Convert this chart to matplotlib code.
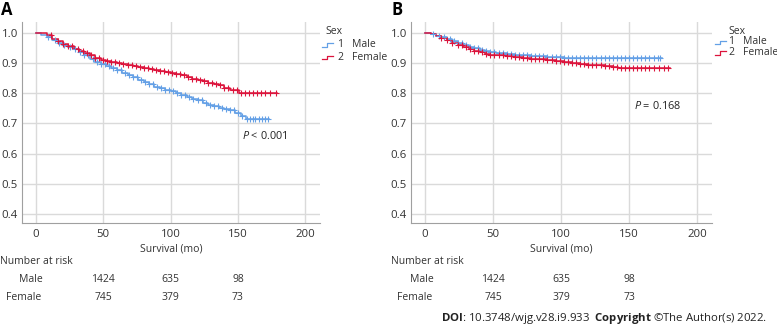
"""Kaplan-Meier survival curves by sex, panels A and B."""
import numpy as np
import matplotlib.pyplot as plt
from matplotlib.transforms import blended_transform_factory

# panel A step curves (time in months, survival)
a_male_t = [0, 4, 8, 12, 16, 20, 24, 28, 32, 36, 40, 44, 48, 52, 56, 60, 64, 68, 72, 76,
            80, 84, 88, 92, 96, 100, 104, 108, 112, 116, 120, 124, 128, 132, 136, 140,
            144, 148, 152, 156, 173]
a_male_s = [1.0, .993, .985, .976, .968, .961, .954, .946, .936, .926, .915, .905, .897,
            .889, .882, .876, .868, .860, .853, .845, .837, .829, .822, .816, .811, .807,
            .800, .793, .786, .780, .776, .769, .762, .758, .752, .747, .743, .735, .725,
            .716, .716]
a_female_t = [0, 4, 8, 12, 16, 20, 24, 28, 32, 36, 40, 44, 48, 52, 56, 60, 64, 68, 72, 76,
              80, 84, 88, 92, 96, 100, 104, 108, 112, 116, 120, 124, 128, 132, 136, 140,
              144, 148, 151, 179]
a_female_s = [1.0, .999, .992, .981, .972, .963, .955, .948, .940, .932, .925, .918, .910,
              .906, .903, .901, .898, .893, .890, .886, .884, .881, .877, .874, .871, .867,
              .863, .859, .853, .848, .845, .841, .835, .831, .826, .818, .812, .810, .800,
              .800]

# panel B step curves
b_male_t = [0, 4, 8, 12, 16, 20, 24, 28, 32, 36, 40, 44, 48, 52, 56, 60, 66, 72, 78, 84,
            90, 96, 102, 174]
b_male_s = [1.0, .996, .991, .985, .979, .973, .966, .960, .954, .949, .944, .940, .937,
            .934, .932, .930, .928, .926, .924, .922, .920, .919, .918, .918]
b_female_t = [0, 4, 8, 12, 16, 20, 24, 28, 32, 36, 40, 44, 48, 54, 60, 66, 72, 78, 84, 90,
              96, 102, 108, 114, 120, 126, 132, 138, 142, 180]
b_female_s = [1.0, .997, .990, .982, .975, .967, .960, .953, .946, .940, .935, .931, .928,
              .925, .922, .920, .917, .914, .912, .909, .907, .904, .900, .896, .894, .892,
              .890, .887, .883, .883]

# censored observation times
a_male_cens = [9, 14, 17, 21, 25, 29, 33, 36, 39, 42, 45, 48, 51, 54, 57, 60, 63, 66, 69,
               72, 75, 78, 81, 84, 87, 90, 93, 96, 99, 102, 105, 108, 111, 114, 117, 120,
               123, 126, 129, 132, 135, 138, 141, 144, 147, 150, 153, 157, 159, 161, 163,
               166, 168, 170, 172]
a_female_cens = [11, 16, 20, 24, 27, 31, 35, 38, 41, 44, 47, 50, 53, 56, 59, 62, 65, 68,
                 71, 74, 77, 80, 83, 86, 89, 92, 95, 98, 101, 104, 107, 110, 113, 116, 119,
                 122, 125, 128, 131, 134, 137, 140, 143, 146, 149, 152, 155, 158, 161, 164,
                 167, 170, 174, 178]
b_male_cens = [6, 10, 14, 18, 21, 24, 27, 30, 33, 36, 39, 42, 45, 48, 51, 54, 57, 60, 63,
               66, 69, 72, 75, 78, 81, 84, 87, 90, 93, 96, 99, 102, 105, 108, 111, 114,
               117, 120, 123, 126, 129, 132, 135, 138, 141, 144, 147, 150, 153, 156, 159,
               162, 165, 168, 171, 173]
b_female_cens = [12, 16, 20, 24, 27, 30, 33, 36, 39, 42, 45, 48, 51, 54, 57, 60, 63, 66,
                 69, 72, 75, 78, 81, 84, 87, 90, 93, 96, 99, 102, 105, 108, 111, 114, 117,
                 120, 123, 126, 129, 132, 135, 138, 141, 144, 147, 150, 153, 156, 159, 162,
                 165, 168, 172, 176, 179]

risk_times = [50, 100, 150]
a_risk_male = [1424, 635, 98]
a_risk_female = [745, 379, 73]
b_risk_male = [1424, 635, 98]
b_risk_female = [745, 379, 73]

BLUE = "#64a0e6"
RED = "#dc143c"
GRID = "#dadada"
TXT = "#333333"

plt.rcParams["font.family"] = ["Open Sans", "DejaVu Sans"]
plt.rcParams["mathtext.fontset"] = "custom"
plt.rcParams["mathtext.it"] = "Open Sans:italic"
plt.rcParams["mathtext.rm"] = "Open Sans"
plt.rcParams["mathtext.bf"] = "Open Sans:bold"

W, H = 777, 329
fig = plt.figure(figsize=(W / 100, H / 100), dpi=100)
FS = 7.5


def fx(px):
    return px / W


def fy(py):
    return 1 - py / H


def step_value(t, s, x):
    i = np.searchsorted(t, x, side="right") - 1
    return np.asarray(s)[i]


def km_panel(rect, curves, pval, pos, risk_m, risk_f, letter, x0, leg):
    ax = fig.add_axes(rect)
    for t, s, cens, c in curves:
        ax.step(t, s, where="post", color=c, lw=1.1, zorder=3)
        ax.plot(cens, step_value(t, s, cens), ls="none", marker="+", ms=4,
                mew=0.8, color=c, zorder=4)
    ax.set_xlim(-10.4, 211)
    ax.set_ylim(0.37, 1.036)
    ax.set_xticks([0, 50, 100, 150, 200])
    ax.set_yticks([0.4, 0.5, 0.6, 0.7, 0.8, 0.9, 1.0])
    ax.set_yticklabels(["0.4", "0.5", "0.6", "0.7", "0.8", "0.9", "1.0"])
    ax.grid(True, color=GRID, lw=1.0, zorder=0)
    ax.tick_params(length=0, labelsize=8.2, colors=TXT, pad=4)
    ax.tick_params(axis="y", pad=3)
    for sp in ["top", "right"]:
        ax.spines[sp].set_visible(False)
    for sp in ["left", "bottom"]:
        ax.spines[sp].set_color("#a0a0a0")
    ax.set_xlabel("Survival (mo)", fontsize=FS, color=TXT, labelpad=3)

    # p value
    ax.text(pos[0], pos[1], pval, fontsize=7.8, ha="center", va="center", color="#222222")

    # legend on the right of the plot
    sex_x, ic_x, num_x, lab_x, ys = leg
    fig.text(fx(sex_x), fy(ys[0]), "Sex", fontsize=FS, va="center", color=TXT)
    for k, (num, lab, c) in enumerate([("1", "Male", BLUE), ("2", "Female", RED)]):
        yy = ys[k + 1]
        fig.add_artist(plt.Line2D([fx(ic_x), fx(ic_x + 5), fx(ic_x + 5), fx(ic_x + 11)],
                                  [fy(yy + 2), fy(yy + 2), fy(yy - 1.5), fy(yy - 1.5)],
                                  color=c, lw=0.9))
        fig.text(fx(num_x), fy(yy), num, fontsize=FS, va="center", color=TXT)
        fig.text(fx(lab_x), fy(yy), lab, fontsize=FS, va="center", color=TXT)

    # number at risk table
    tr = blended_transform_factory(ax.transData, fig.transFigure)
    fig.text(fx(x0), fy(262), "Number at risk", fontsize=FS, va="center", color=TXT)
    fig.text(fx(x0 + 31), fy(279), "Male", fontsize=FS, va="center", ha="center",
             color=TXT)
    fig.text(fx(x0 + 24), fy(297), "Female", fontsize=FS, va="center", ha="center",
             color=TXT)
    for x, m, f in zip(risk_times, risk_m, risk_f):
        ax.text(x, fy(279), str(m), transform=tr, fontsize=FS, va="center",
                ha="center", color=TXT)
        ax.text(x, fy(297), str(f), transform=tr, fontsize=FS, va="center",
                ha="center", color=TXT)

    fig.text(fx(x0 + 1), fy(10), letter, fontsize=12, fontweight="bold", va="center")
    return ax


km_panel([fx(22), fy(223), fx(298), fy(22) - fy(223)],
         [(a_male_t, a_male_s, a_male_cens, BLUE),
          (a_female_t, a_female_s, a_female_cens, RED)],
         r"$P$ < 0.001", (170, 0.659), a_risk_male, a_risk_female, "A", 0,
         (325, 322, 337, 352, (32, 44.5, 57)))
km_panel([fx(411), fy(223), fx(301), fy(22) - fy(223)],
         [(b_male_t, b_male_s, b_male_cens, BLUE),
          (b_female_t, b_female_s, b_female_cens, RED)],
         r"$P$ = 0.168", (171, 0.757), b_risk_male, b_risk_female, "B", 391,
         (728, 715, 728, 743, (31, 42, 52.5)))

# footer
fig.text(fx(441), fy(318), r"$\mathbf{DOI}$: 10.3748/wjg.v28.i9.933  "
         r"$\mathbf{Copyright}$ " + "\u00a9The Author(s) 2022.",
         fontsize=8.2, va="center", color="#222222")

fig.savefig("out.png", dpi=100)
